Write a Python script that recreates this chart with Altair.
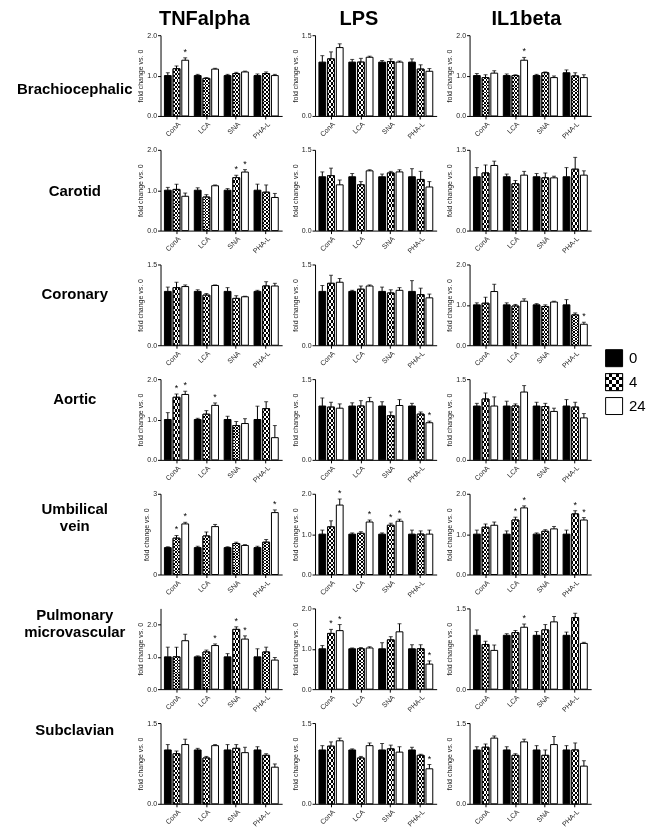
import altair as alt
import pandas as pd
import numpy as np

LECTINS = ["ConA", "LCA", "SNA", "PHA-L"]
TIMES = ["0", "4", "24"]
STIMULI = ["TNFalpha", "LPS", "IL1beta"]
VESSELS = [["Brachiocephalic"], ["Carotid"], ["Coronary"], ["Aortic"],
           ["Umbilical", "vein"], ["Pulmonary", "microvascular"], ["Subclavian"]]
# y-axis maximum of each panel, rows = vessels, cols = stimuli
Y_MAX = [[2.0, 1.5, 2.0], [2.0, 1.5, 1.5], [1.5, 1.5, 2.0], [2.0, 1.5, 1.5],
         [3.0, 2.0, 2.0], [2.5, 2.0, 1.5], [1.5, 1.5, 1.5]]

# order of values: ConA(0,4,24), LCA(0,4,24), SNA(0,4,24), PHA-L(0,4,24)
BRA_TNF = [1.00, 1.17, 1.38, 1.00, 0.93, 1.16, 1.00, 1.05, 1.09, 1.00, 1.05, 1.00]
BRA_TNF_ERR = [0.07, 0.07, 0.06, 0.03, 0.02, 0.02, 0.03, 0.03, 0.02, 0.04, 0.04, 0.03]
BRA_TNF_SIG = [0, 0, 1, 0, 0, 0, 0, 0, 0, 0, 0, 0]
BRA_LPS = [1.00, 1.06, 1.27, 1.00, 1.00, 1.09, 1.00, 1.01, 1.00, 1.00, 0.87, 0.83]
BRA_LPS_ERR = [0.12, 0.13, 0.07, 0.05, 0.07, 0.02, 0.03, 0.05, 0.02, 0.06, 0.08, 0.05]
BRA_LPS_SIG = [0, 0, 0, 0, 0, 0, 0, 0, 0, 0, 0, 0]
BRA_IL1 = [1.00, 0.95, 1.06, 1.00, 1.00, 1.38, 1.00, 1.07, 0.95, 1.07, 0.99, 0.95]
BRA_IL1_ERR = [0.05, 0.07, 0.06, 0.04, 0.02, 0.07, 0.03, 0.02, 0.04, 0.07, 0.08, 0.07]
BRA_IL1_SIG = [0, 0, 0, 0, 0, 1, 0, 0, 0, 0, 0, 0]

CAR_TNF = [1.00, 1.02, 0.85, 1.00, 0.83, 1.11, 1.00, 1.31, 1.45, 1.00, 0.95, 0.82]
CAR_TNF_ERR = [0.07, 0.13, 0.08, 0.06, 0.06, 0.02, 0.04, 0.06, 0.06, 0.15, 0.18, 0.10]
CAR_TNF_SIG = [0, 0, 0, 0, 0, 0, 0, 1, 1, 0, 0, 0]
CAR_LPS = [1.00, 1.02, 0.85, 1.00, 0.85, 1.11, 1.00, 1.07, 1.09, 1.00, 0.95, 0.81]
CAR_LPS_ERR = [0.09, 0.14, 0.09, 0.06, 0.06, 0.02, 0.05, 0.03, 0.04, 0.15, 0.15, 0.10]
CAR_LPS_SIG = [0, 0, 0, 0, 0, 0, 0, 0, 0, 0, 0, 0]
CAR_IL1 = [1.00, 1.07, 1.21, 1.00, 0.87, 1.03, 1.00, 0.98, 0.98, 1.00, 1.14, 1.03]
CAR_IL1_ERR = [0.17, 0.15, 0.08, 0.05, 0.06, 0.07, 0.06, 0.09, 0.03, 0.17, 0.22, 0.08]
CAR_IL1_SIG = [0, 0, 0, 0, 0, 0, 0, 0, 0, 0, 0, 0]

COR_TNF = [1.00, 1.07, 1.09, 1.00, 0.93, 1.11, 1.00, 0.87, 0.90, 1.00, 1.10, 1.10]
COR_TNF_ERR = [0.08, 0.10, 0.03, 0.03, 0.03, 0.01, 0.07, 0.05, 0.01, 0.02, 0.08, 0.05]
COR_TNF_SIG = [0, 0, 0, 0, 0, 0, 0, 0, 0, 0, 0, 0]
COR_LPS = [1.00, 1.15, 1.17, 1.00, 1.04, 1.10, 1.00, 0.97, 1.02, 1.00, 0.94, 0.88]
COR_LPS_ERR = [0.11, 0.15, 0.07, 0.02, 0.06, 0.02, 0.08, 0.06, 0.05, 0.20, 0.12, 0.07]
COR_LPS_SIG = [0, 0, 0, 0, 0, 0, 0, 0, 0, 0, 0, 0]
COR_IL1 = [1.00, 1.04, 1.33, 1.00, 0.97, 1.09, 1.00, 0.96, 1.07, 1.00, 0.75, 0.52]
COR_IL1_ERR = [0.05, 0.15, 0.18, 0.05, 0.04, 0.06, 0.03, 0.04, 0.02, 0.13, 0.05, 0.05]
COR_IL1_SIG = [0, 0, 0, 0, 0, 0, 0, 0, 0, 0, 0, 1]

AOR_TNF = [1.00, 1.55, 1.62, 1.00, 1.13, 1.35, 1.00, 0.85, 0.90, 1.00, 1.27, 0.55]
AOR_TNF_ERR = [0.17, 0.08, 0.08, 0.03, 0.09, 0.06, 0.08, 0.10, 0.12, 0.33, 0.17, 0.30]
AOR_TNF_SIG = [0, 1, 1, 0, 0, 1, 0, 0, 0, 0, 0, 0]
AOR_LPS = [1.00, 0.98, 0.96, 1.00, 1.00, 1.08, 1.00, 0.82, 1.01, 1.00, 0.85, 0.69]
AOR_LPS_ERR = [0.15, 0.09, 0.08, 0.06, 0.10, 0.08, 0.08, 0.07, 0.11, 0.05, 0.04, 0.03]
AOR_LPS_SIG = [0, 0, 0, 0, 0, 0, 0, 0, 0, 0, 0, 1]
AOR_IL1 = [1.00, 1.13, 1.00, 1.00, 1.00, 1.26, 1.00, 0.99, 0.90, 1.00, 0.98, 0.78]
AOR_IL1_ERR = [0.05, 0.11, 0.17, 0.09, 0.04, 0.12, 0.07, 0.06, 0.06, 0.12, 0.09, 0.08]
AOR_IL1_SIG = [0, 0, 0, 0, 0, 0, 0, 0, 0, 0, 0, 0]

UMB_TNF = [1.00, 1.35, 1.88, 1.00, 1.43, 1.78, 1.00, 1.15, 1.08, 1.00, 1.20, 2.30]
UMB_TNF_ERR = [0.03, 0.10, 0.06, 0.05, 0.15, 0.08, 0.03, 0.05, 0.03, 0.05, 0.10, 0.10]
UMB_TNF_SIG = [0, 1, 1, 0, 0, 0, 0, 0, 0, 0, 0, 1]
UMB_LPS = [1.00, 1.18, 1.72, 1.00, 1.02, 1.30, 1.00, 1.22, 1.32, 1.00, 1.00, 1.00]
UMB_LPS_ERR = [0.10, 0.15, 0.15, 0.03, 0.04, 0.05, 0.03, 0.05, 0.05, 0.10, 0.08, 0.10]
UMB_LPS_SIG = [0, 0, 1, 0, 0, 1, 0, 1, 1, 0, 0, 0]
UMB_IL1 = [1.00, 1.17, 1.22, 1.00, 1.35, 1.65, 1.00, 1.07, 1.13, 1.00, 1.50, 1.35]
UMB_IL1_ERR = [0.10, 0.08, 0.08, 0.08, 0.07, 0.05, 0.03, 0.04, 0.06, 0.10, 0.08, 0.06]
UMB_IL1_SIG = [0, 0, 0, 0, 1, 1, 0, 0, 0, 0, 1, 1]

PUL_TNF = [1.00, 1.00, 1.50, 1.00, 1.15, 1.35, 1.00, 1.85, 1.55, 1.00, 1.15, 0.90]
PUL_TNF_ERR = [0.30, 0.30, 0.20, 0.03, 0.06, 0.05, 0.10, 0.08, 0.10, 0.25, 0.15, 0.08]
PUL_TNF_SIG = [0, 0, 0, 0, 0, 1, 0, 1, 1, 0, 0, 0]
PUL_LPS = [1.00, 1.38, 1.45, 1.00, 1.00, 1.02, 1.00, 1.22, 1.42, 1.00, 1.00, 0.62]
PUL_LPS_ERR = [0.08, 0.10, 0.15, 0.02, 0.03, 0.03, 0.15, 0.08, 0.20, 0.10, 0.10, 0.08]
PUL_LPS_SIG = [0, 1, 1, 0, 0, 0, 0, 0, 0, 0, 0, 1]
PUL_IL1 = [1.00, 0.83, 0.72, 1.00, 1.05, 1.15, 1.00, 1.10, 1.25, 1.00, 1.33, 0.85]
PUL_IL1_ERR = [0.10, 0.06, 0.10, 0.03, 0.04, 0.06, 0.07, 0.10, 0.10, 0.06, 0.08, 0.02]
PUL_IL1_SIG = [0, 0, 0, 0, 0, 1, 0, 0, 0, 0, 0, 0]

SUB_TNF = [1.00, 0.93, 1.10, 1.00, 0.85, 1.08, 1.00, 1.03, 0.95, 1.00, 0.90, 0.68]
SUB_TNF_ERR = [0.10, 0.05, 0.10, 0.03, 0.03, 0.02, 0.10, 0.07, 0.10, 0.06, 0.03, 0.06]
SUB_TNF_SIG = [0, 0, 0, 0, 0, 0, 0, 0, 0, 0, 0, 0]
SUB_LPS = [1.00, 1.07, 1.17, 1.00, 0.85, 1.08, 1.00, 1.02, 0.96, 1.00, 0.90, 0.65]
SUB_LPS_ERR = [0.08, 0.08, 0.05, 0.02, 0.03, 0.05, 0.12, 0.07, 0.10, 0.05, 0.02, 0.08]
SUB_LPS_SIG = [0, 0, 0, 0, 0, 0, 0, 0, 0, 0, 0, 1]
SUB_IL1 = [1.00, 1.05, 1.22, 1.00, 0.90, 1.15, 1.00, 0.90, 1.10, 1.00, 1.00, 0.70]
SUB_IL1_ERR = [0.06, 0.06, 0.04, 0.06, 0.03, 0.05, 0.08, 0.10, 0.15, 0.08, 0.13, 0.10]
SUB_IL1_SIG = [0, 0, 0, 0, 0, 0, 0, 0, 0, 0, 0, 0]

PANELS = [
    [(BRA_TNF, BRA_TNF_ERR, BRA_TNF_SIG), (BRA_LPS, BRA_LPS_ERR, BRA_LPS_SIG), (BRA_IL1, BRA_IL1_ERR, BRA_IL1_SIG)],
    [(CAR_TNF, CAR_TNF_ERR, CAR_TNF_SIG), (CAR_LPS, CAR_LPS_ERR, CAR_LPS_SIG), (CAR_IL1, CAR_IL1_ERR, CAR_IL1_SIG)],
    [(COR_TNF, COR_TNF_ERR, COR_TNF_SIG), (COR_LPS, COR_LPS_ERR, COR_LPS_SIG), (COR_IL1, COR_IL1_ERR, COR_IL1_SIG)],
    [(AOR_TNF, AOR_TNF_ERR, AOR_TNF_SIG), (AOR_LPS, AOR_LPS_ERR, AOR_LPS_SIG), (AOR_IL1, AOR_IL1_ERR, AOR_IL1_SIG)],
    [(UMB_TNF, UMB_TNF_ERR, UMB_TNF_SIG), (UMB_LPS, UMB_LPS_ERR, UMB_LPS_SIG), (UMB_IL1, UMB_IL1_ERR, UMB_IL1_SIG)],
    [(PUL_TNF, PUL_TNF_ERR, PUL_TNF_SIG), (PUL_LPS, PUL_LPS_ERR, PUL_LPS_SIG), (PUL_IL1, PUL_IL1_ERR, PUL_IL1_SIG)],
    [(SUB_TNF, SUB_TNF_ERR, SUB_TNF_SIG), (SUB_LPS, SUB_LPS_ERR, SUB_LPS_SIG), (SUB_IL1, SUB_IL1_ERR, SUB_IL1_SIG)],
]

FONT = "Liberation Sans"
PW, PH = 122, 81
HSP, VSP = 33, 34
LEG_W = 18
HEADER_X = [44, 44, 57]
LABEL_Y = [54, 41, 30, 20, 15, 7, 7]


def stripes(n, c1, c2, vertical):
    stops = []
    for i in range(n):
        c = c1 if i % 2 == 0 else c2
        stops.append(alt.GradientStop(color=c, offset=i / n))
        stops.append(alt.GradientStop(color=c, offset=(i + 1) / n))
    if vertical:
        return alt.LinearGradient(gradient="linear", stops=stops, x1=0, x2=0, y1=0, y2=1)
    return alt.LinearGradient(gradient="linear", stops=stops, x1=0, x2=1, y1=0, y2=0)


# checkerboard = vertical black/white stripes XOR horizontal white stripes (difference blend)
BAR_COLS = stripes(4, "black", "white", False)
BAR_ROWS = stripes(22, "white", "rgba(255,255,255,0)", True)
LEG_COLS = stripes(5, "black", "white", False)
LEG_ROWS = stripes(5, "white", "rgba(255,255,255,0)", True)

fill_scale = alt.Scale(domain=TIMES, range=["black", "white", "white"])


def panel(means, errs, sigs, ymax, header=None, hx=0):
    recs = []
    for i, lec in enumerate(LECTINS):
        for j, t in enumerate(TIMES):
            k = i * 3 + j
            recs.append({"lectin": lec, "time": t, "mean": means[k],
                         "top": means[k] + errs[k], "star": "*" if sigs[k] else ""})
    df = pd.DataFrame(recs)
    if ymax == 3.0:
        ticks, fmt = [0, 1, 2, 3], "d"
    else:
        ticks, fmt = [round(v, 1) for v in np.arange(0, ymax + 0.01, 0.5)], ".1f"
    x = alt.X("lectin:N", sort=LECTINS,
              scale=alt.Scale(paddingInner=0.19, paddingOuter=0.13),
              axis=alt.Axis(title=None, labelAngle=-45, labelFontSize=7, tickSize=3,
                            labelPadding=1))
    xo = alt.XOffset("time:N", sort=TIMES, scale=alt.Scale(paddingInner=0.22))
    y = alt.Y("mean:Q", scale=alt.Scale(domain=[0, ymax], nice=False, zero=True),
              axis=alt.Axis(values=ticks, format=fmt, title="fold change vs. 0",
                            labelFontSize=7, titleFontSize=7, tickSize=3,
                            titlePadding=3, labelPadding=1))
    base = alt.Chart(df).encode(x=x, xOffset=xo)
    bars = base.mark_bar(stroke="black", strokeWidth=1).encode(
        y=y, fill=alt.Fill("time:N", scale=fill_scale, legend=None))
    chk = base.transform_filter("datum.time == '4'")
    chk1 = chk.mark_bar(fill=BAR_COLS, strokeWidth=0).encode(y="mean:Q")
    chk2 = chk.mark_bar(fill=BAR_ROWS, strokeWidth=0, blend="difference").encode(y="mean:Q")
    chk3 = chk.mark_bar(fillOpacity=0, stroke="black", strokeWidth=1).encode(y="mean:Q")
    rule = base.mark_rule(color="black", strokeWidth=1).encode(y="mean:Q", y2="top:Q")
    cap = base.mark_tick(color="black", size=4, thickness=1).encode(y="top:Q")
    star = base.mark_text(fontSize=9, dy=-1, baseline="bottom", font=FONT).encode(
        y="top:Q", text="star:N")
    layers = [bars, chk1, chk2, chk3, rule, cap, star]
    if header:
        head = alt.Chart(pd.DataFrame({"h": [header]})).mark_text(
            fontSize=20, fontWeight="bold", font=FONT, align="center", baseline="alphabetic",
            color="black").encode(text="h:N", x=alt.value(hx), y=alt.value(-10))
        layers.append(head)
    return alt.layer(*layers).properties(width=PW, height=PH)


def label_chart(lines, ly):
    return alt.Chart(pd.DataFrame({"v": [0]})).mark_text(
        text=lines, fontSize=15, fontWeight="bold", font=FONT, align="center",
        baseline="middle", lineHeight=17, color="black").encode(
        x=alt.value(67), y=alt.value(ly)).properties(width=161 - 8 - HSP, height=PH)


def legend_chart():
    df = pd.DataFrame({"time": TIMES})
    y = alt.Y("time:N", sort=TIMES, scale=alt.Scale(type="point", range=[-21, 27], padding=0),
              axis=None)
    base = alt.Chart(df).encode(y=y)
    sq = base.mark_square(size=290, stroke="black", strokeWidth=1, opacity=1).encode(
        x=alt.value(-10), fill=alt.Fill("time:N", scale=fill_scale, legend=None))
    c = base.transform_filter("datum.time == '4'")
    sq1 = c.mark_square(size=290, fill=LEG_COLS, strokeWidth=0, opacity=1).encode(x=alt.value(-10))
    sq2 = c.mark_square(size=290, fill=LEG_ROWS, strokeWidth=0, opacity=1,
                        blend="difference").encode(x=alt.value(-10))
    sq3 = c.mark_square(size=290, fillOpacity=0, stroke="black", strokeWidth=1,
                        opacity=1).encode(x=alt.value(-10))
    txt = base.mark_text(align="left", fontSize=15, font=FONT, color="black").encode(
        x=alt.value(5), text="time:N")
    return alt.layer(sq, sq1, sq2, sq3, txt).properties(width=LEG_W, height=PH)


def blank():
    return alt.Chart(pd.DataFrame({"v": [0]})).mark_text(text="").encode(
        x=alt.value(0), y=alt.value(0)).properties(width=LEG_W, height=PH)


cells = []
for r in range(7):
    cells.append(label_chart(VESSELS[r], LABEL_Y[r]))
    for c in range(3):
        m, e, s = PANELS[r][c]
        cells.append(panel(m, e, s, Y_MAX[r][c], STIMULI[c] if r == 0 else None, HEADER_X[c]))
    cells.append(legend_chart() if r == 3 else blank())

chart = alt.concat(*cells, columns=5, spacing={"row": VSP, "column": HSP},
                   bounds="flush").properties(padding=0).configure_view(
    stroke=None).configure_axis(
    grid=False, domainColor="black", tickColor="black", labelColor="#222222",
    titleColor="#222222", labelFont=FONT, titleFont=FONT, titleFontWeight="normal",
    domainWidth=1, tickWidth=1)

chart.save("out.html", embed_options={"renderer": "svg", "actions": False})
